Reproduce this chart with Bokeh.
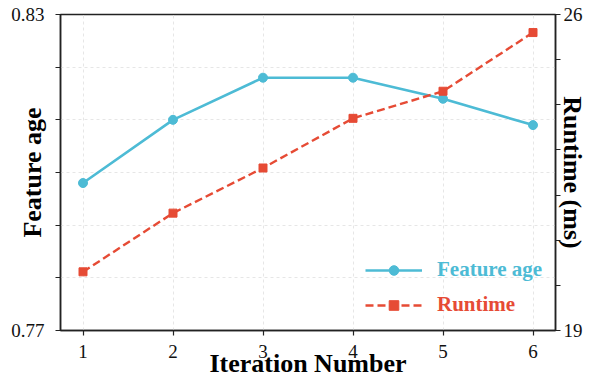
from bokeh.plotting import figure
from bokeh.models import Range1d, LinearAxis, FixedTicker, Legend, LegendItem
from bokeh.embed import file_html
from bokeh.resources import INLINE

# ---- data ----
iterations = [1, 2, 3, 4, 5, 6]
feature_age = [0.798, 0.810, 0.818, 0.818, 0.814, 0.809]
runtime_ms = [20.3, 21.6, 22.6, 23.7, 24.3, 25.6]
left_ticks = [0.77, 0.78, 0.79, 0.80, 0.81, 0.82, 0.83]
left_tick_labels = ["0.77", "", "", "", "", "", "0.83"]
right_ticks = [19, 20, 21, 22, 23, 24, 25, 26]
right_tick_labels = ["19", "", "", "", "", "", "", "26"]
x_ticks = [1, 2, 3, 4, 5, 6]

BLUE = "#4DBBD5"
RED = "#E64B35"
FONT = "Liberation Serif"

W, H = 589, 381
ML, MR, MT, MB = 60, 34, 14, 51

p = figure(width=W, height=H, output_backend="svg", toolbar_location=None,
           x_range=Range1d(0.75, 6.25), y_range=Range1d(0.77, 0.83),
           min_border_left=ML, min_border_right=MR, min_border_top=MT,
           min_border_bottom=MB)
p.extra_y_ranges = {"rt": Range1d(19, 26)}

p.outline_line_color = "#222222"
p.outline_line_width = 1.5
p.outline_line_alpha = 1.0

# grids
for g in (p.xgrid, p.ygrid):
    g.grid_line_color = "#e6e6e6"
    g.grid_line_dash = "3 3"
    g.grid_line_width = 1

# x axis
xa = p.xaxis[0]
xa.ticker = FixedTicker(ticks=x_ticks)
xa.axis_label = "Iteration Number"
# left axis
ya = p.yaxis[0]
ya.ticker = FixedTicker(ticks=left_ticks)
ya.major_label_overrides = {t: l for t, l in zip(left_ticks, left_tick_labels)}
ya.axis_label = "Feature age"

ra = LinearAxis(y_range_name="rt", ticker=FixedTicker(ticks=right_ticks))
ra.major_label_overrides = {t: l for t, l in zip(right_ticks, right_tick_labels)}
ra.axis_label = "Runtime (ms)"
p.add_layout(ra, "right")

for ax in (xa, ya, ra):
    ax.axis_line_color = "#222222"
    ax.axis_line_width = 1.5
    ax.major_tick_line_color = "#222222"
    ax.major_tick_line_width = 1.2
    ax.major_tick_out = 5
    ax.major_tick_in = 0
    ax.minor_tick_out = 0
    ax.minor_tick_in = 0
    ax.major_label_text_font = FONT
    ax.major_label_text_font_size = "19px"
    ax.major_label_text_color = "#111111"
    ax.axis_label_text_font = FONT
    ax.axis_label_text_font_style = "bold"
    ax.axis_label_text_font_size = "26px"
    ax.axis_label_text_color = "#000000"

xa.major_label_standoff = 9
xa.axis_label_standoff = -12
ya.major_label_standoff = 11
ya.axis_label_standoff = -39
ra.major_label_standoff = 3
ra.axis_label_standoff = -28

# series
fa_line = p.line(iterations, feature_age, line_color=BLUE, line_width=2.6)
fa_pts = p.scatter(iterations, feature_age, marker="circle", size=9,
                   fill_color=BLUE, line_color=BLUE)
rt_line = p.line(iterations, runtime_ms, y_range_name="rt", line_color=RED,
                 line_width=2.4, line_dash="8 4")
rt_pts = p.scatter(iterations, runtime_ms, y_range_name="rt", marker="square",
                   size=8, fill_color=RED, line_color=RED)

def make_legend(label, renderers, color, loc):
    lg = Legend(items=[LegendItem(label=label, renderers=renderers)],
                location=loc, orientation="vertical")
    lg.border_line_alpha = 0
    lg.background_fill_alpha = 0
    lg.padding = 0
    lg.margin = 0
    lg.spacing = 0
    lg.glyph_width = 57
    lg.glyph_height = 24
    lg.label_height = 24
    lg.label_standoff = 15
    lg.label_text_font = FONT
    lg.label_text_font_style = "bold"
    lg.label_text_font_size = "21px"
    lg.label_text_color = color
    return lg

p.add_layout(make_legend("Feature age", [fa_line, fa_pts], BLUE, (305, 48)))
p.add_layout(make_legend("Runtime", [rt_line, rt_pts], RED, (305, 13)))

open("out.html", "w").write(file_html(p, INLINE))
